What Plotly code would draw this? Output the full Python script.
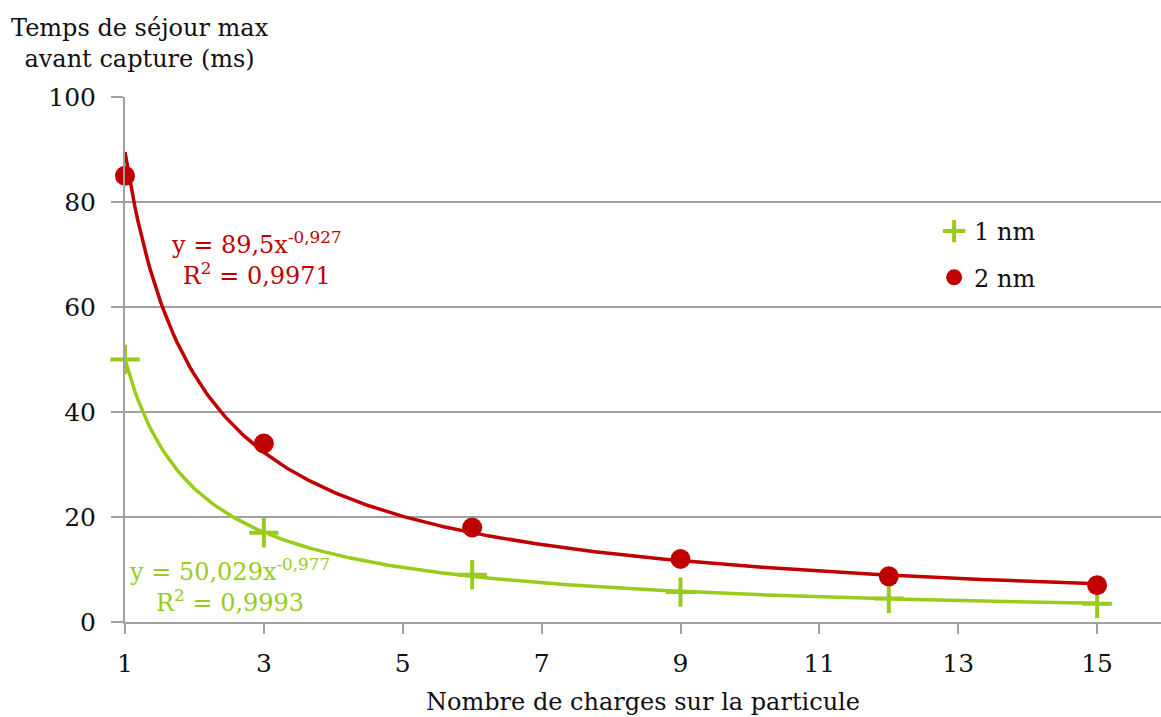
import numpy as np
import plotly.graph_objects as go

# Data
charges = [1, 3, 6, 9, 12, 15]
t_1nm = [50, 17, 9, 5.7, 4.5, 3.5]
t_2nm = [85, 34, 18, 12, 8.7, 7]

# Power trendline coefficients shown on chart
fit_1nm = (50.029, -0.977)
fit_2nm = (89.5, -0.927)

tick_vals_x = [1, 3, 5, 7, 9, 11, 13, 15]
tick_vals_y = [0, 20, 40, 60, 80, 100]

RED = "#C00000"
GREEN = "#99CC1A"
GRID = "#A0A0A0"
FONT = "DejaVu Serif"

xs = np.linspace(1, 15, 300)

fig = go.Figure()
fig.add_trace(go.Scatter(x=xs, y=fit_2nm[0] * xs ** fit_2nm[1], mode="lines", cliponaxis=False,
                         line=dict(color=RED, width=3.5), showlegend=False, hoverinfo="skip"))
fig.add_trace(go.Scatter(x=xs, y=fit_1nm[0] * xs ** fit_1nm[1], mode="lines", cliponaxis=False,
                         line=dict(color=GREEN, width=3.5), showlegend=False, hoverinfo="skip"))
fig.add_trace(go.Scatter(x=charges, y=t_1nm, mode="markers", name="1 nm", legendgroup="a",
                         cliponaxis=False,
                         marker=dict(symbol="cross-thin", size=21, color=GREEN,
                                     line=dict(color=GREEN, width=4))))
fig.add_trace(go.Scatter(x=charges, y=t_2nm, mode="markers", name="2 nm", legendgroup="b",
                         cliponaxis=False,
                         marker=dict(symbol="circle", size=20, color=RED)))

fig.update_layout(
    width=1161, height=717,
    margin=dict(l=125, r=0, t=97, b=95, autoexpand=False),
    plot_bgcolor="white", paper_bgcolor="white",
    font=dict(family=FONT, size=24, color="#111111"),
    legend=dict(x=0.781, y=0.70, xanchor="left", yanchor="middle",
                font=dict(size=24), tracegroupgap=12, traceorder="grouped",
                bgcolor="rgba(0,0,0,0)"),
    xaxis=dict(range=[1, 15.92], tickvals=tick_vals_x, showgrid=False,
               showline=True, linecolor=GRID, linewidth=2,
               ticks="outside", ticklen=10, tickcolor=GRID, tickwidth=2,
               ticklabelstandoff=8,
               zeroline=False, tickfont=dict(size=25),
               title=dict(text="Nombre de charges sur la particule", font=dict(size=24), standoff=16)),
    yaxis=dict(range=[0, 100], tickvals=tick_vals_y, showgrid=True, gridcolor=GRID, gridwidth=2,
               showline=True, linecolor=GRID, linewidth=2,
               ticks="outside", ticklen=12, tickcolor=GRID, tickwidth=2,
               ticklabelstandoff=10,
               zeroline=False, tickfont=dict(size=25)),
)

fig.add_annotation(text="Temps de séjour max<br>avant capture (ms)", xref="paper", yref="paper",
                   x=(140 - 125) / 1036, y=(622 - 12) / 525, xanchor="center", yanchor="top",
                   showarrow=False, align="center", font=dict(size=24))
fig.add_annotation(text="y = 89,5x<sup>-0,927</sup><br>R<sup>2</sup> = 0,9971", x=2.9, y=69.3,
                   xanchor="center", yanchor="middle", showarrow=False, align="center",
                   font=dict(size=24, color=RED))
fig.add_annotation(text="y = 50,029x<sup>-0,977</sup><br>R<sup>2</sup> = 0,9993", x=2.5, y=7.0,
                   xanchor="center", yanchor="middle", showarrow=False, align="center",
                   font=dict(size=24, color=GREEN))

fig.write_html("out.html", config={"displayModeBar": False},
               post_script="document.body.style.margin='0';")
